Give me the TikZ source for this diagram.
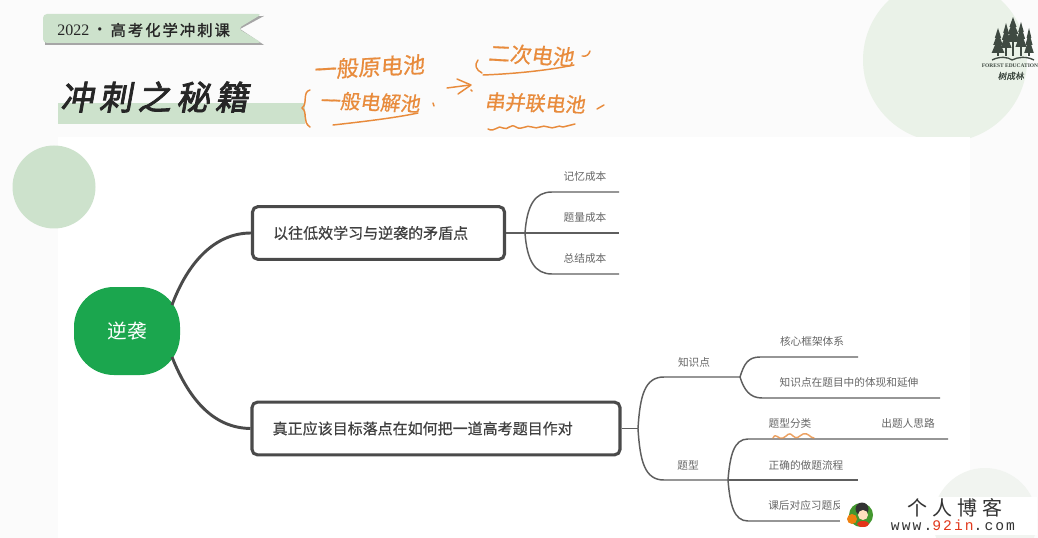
\documentclass[tikz,border=0pt]{standalone}
\usepackage{fontspec}
\setmainfont{Liberation Serif}
\newfontfamily\cjk{Noto Sans CJK SC}
\newfontfamily\cjkbox[FakeBold=0.6]{Noto Sans CJK SC}
\newfontfamily\cjkslant[FakeSlant=0.18,FakeBold=2.5,LetterSpace=16]{Noto Sans CJK SC}
\newfontfamily\hand[FakeSlant=0.12,FakeBold=0.7]{Noto Sans CJK SC}
\newfontfamily\wide[LetterSpace=25]{Noto Sans CJK SC}
\newfontfamily\ribbonfont[FakeBold=1.4,LetterSpace=13]{Noto Sans CJK SC}
\newfontfamily\wmfont[LetterSpace=14]{Liberation Mono}
\definecolor{bgc}{HTML}{FBFBFB}
\definecolor{softg}{HTML}{CDE2CC}
\definecolor{pale}{HTML}{EAF2E8}
\definecolor{paleb}{HTML}{F1F4F0}
\definecolor{rootg}{HTML}{1BA64E}
\definecolor{linec}{HTML}{4A4A4A}
\definecolor{thin}{HTML}{5E5E5E}
\definecolor{txt}{HTML}{666666}
\definecolor{ink}{HTML}{E88B3C}
\definecolor{tree}{HTML}{3F4A42}
\tikzset{
  rootnode/.style={fill=rootg,rounded corners=30,minimum width=79.5pt,minimum height=66pt,inner sep=0,text=white,font=\cjk\fontsize{14.7pt}{18pt}\selectfont},
  mainbox/.style={draw=linec,line width=2.3pt,fill=white,rounded corners=4,inner sep=0,minimum height=39.5pt,align=left,font=\cjkbox\fontsize{11.25pt}{15pt}\selectfont,text=black!75},
  lab/.style={inner sep=0,text=txt,font=\cjk\fontsize{8pt}{10pt}\selectfont},
  bigarm/.style={draw=linec,line width=2.2pt},
  arm/.style={draw=thin,line width=1.1pt},
  handtext/.style={inner sep=0,text=ink,font=\hand\fontsize{15pt}{16pt}\selectfont},
  pen/.style={draw=ink,line width=1.1pt,line cap=round,line join=round},
  treeshape/.style={fill=tree,draw=none},
}
\begin{document}
\begin{tikzpicture}[x=0.75pt,y=-0.75pt]
\useasboundingbox (0,0) rectangle (1038,538);
\fill[bgc] (0,0) rectangle (1038,538);
% decorative circles and panel
\fill[pale] (945,60) circle (82);
\fill[white] (58,137) rectangle (970,538);
\fill[paleb] (985,520) circle (52);
\fill[softg] (54,187) circle (41.5);
% ribbon
\fill[gray!70] (45,17) -- (264,16) -- (240,29) -- (264,45) -- (45,45) -- cycle;
\fill[softg,rounded corners=3] (43,14) -- (262,14) -- (238,28.5) -- (262,43) -- (43,43) -- cycle;
\node[inner sep=0,anchor=west,text=black!85] (ribbon) at (57,30) {\fontsize{12pt}{14pt}\selectfont 2022\,{\cjk ·}\,{\ribbonfont\fontsize{11.5pt}{14pt}\selectfont 高考化学冲刺课}};
% title
\fill[softg] (58,103) rectangle (305,124);
\node[inner sep=0,anchor=west,text=black!85] (title) at (60,97) {\cjkslant\fontsize{25pt}{27pt}\selectfont 冲刺之秘籍};
% logo
\foreach \cx/\top/\w in {998/28/8,1006/23/7,1013/17/9,1021/22/7,1029/28/6}{
  \fill[treeshape] (\cx,\top) -- (\cx+\w*.4,\top+10) -- (\cx-\w*.4,\top+10) -- cycle;
  \fill[treeshape] (\cx,\top+4) -- (\cx+\w*.6,\top+17) -- (\cx-\w*.6,\top+17) -- cycle;
  \fill[treeshape] (\cx,\top+10) -- (\cx+\w*.8,\top+25) -- (\cx-\w*.8,\top+25) -- cycle;
  \fill[treeshape] (\cx-.8,\top+10) rectangle (\cx+.8,56);
}
\draw[tree,line width=1pt] (992,60) .. controls (1000,56) and (1008,57) .. (1012,60) .. controls (1018,57) and (1026,56) .. (1034,60);
\node[inner sep=0,text=tree,font=\bfseries\fontsize{4.1pt}{5pt}\selectfont] (logoen) at (1010,66) {FOREST EDUCATION};
\node[inner sep=0,text=tree,font=\hand\fontsize{6.5pt}{7pt}\selectfont] (logocn) at (1011,76) {树成林};
% mind map
\node[rootnode] (root) at (127,331) {逆袭};
\node[mainbox,minimum width=189pt,text width=189pt] (boxa) at (378.5,233) {\hspace*{15.5pt}以往低效学习与逆袭的矛盾点};
\node[mainbox,minimum width=276pt,text width=276pt] (boxb) at (436,428.5) {\hspace*{15.5pt}真正应该目标落点在如何把一道高考题目作对};
\coordinate (rootup) at (172,305);
\coordinate (rootdn) at (172,357);
\draw[bigarm] (rootup) .. controls (188,262) and (215,233) .. (boxa.west);
\draw[bigarm] (rootdn) .. controls (190,402) and (215,428) .. (boxb.west);
% upper branch
\coordinate (hubA) at (525,233);
\coordinate (a1) at (619,192);
\coordinate (a2) at (619,233);
\coordinate (a3) at (619,274);
\draw[arm] (boxa.east) -- (hubA) -- (a2);
\draw[arm] (hubA) .. controls (527,205) and (535,192) .. (552,192) -- (a1);
\draw[arm] (hubA) .. controls (527,261) and (535,274) .. (552,274) -- (a3);
\node[lab] (la1) at (585,176) {记忆成本};
\node[lab] (la2) at (585,217) {题量成本};
\node[lab] (la3) at (585,258) {总结成本};
% lower branch
\coordinate (hubB) at (638,428.5);
\coordinate (k) at (740,377);
\coordinate (t) at (728,480);
\coordinate (k1) at (858,357);
\coordinate (k2) at (940,398);
\coordinate (t1) at (948,439);
\coordinate (t2) at (858,480);
\coordinate (t3) at (845,521);
\draw[arm] (boxb.east) -- (hubB);
\draw[arm] (hubB) .. controls (640,395) and (645,377) .. (664,377) -- (k);
\draw[arm] (hubB) .. controls (640,462) and (645,480) .. (664,480) -- (t);
\draw[arm] (k) .. controls (744,364) and (748,357) .. (760,357) -- (k1);
\draw[arm] (k) .. controls (744,390) and (750,398) .. (762,398) -- (k2);
\draw[arm] (t) .. controls (730,455) and (734,439) .. (748,439) -- (t1);
\draw[arm] (t) -- (t2);
\draw[arm] (t) .. controls (730,505) and (734,521) .. (748,521) -- (t3);
\node[lab] (lk) at (694,362) {知识点};
\node[lab] (lt) at (688,465) {题型};
\node[lab] (lk1) at (812,341) {核心框架体系};
\node[lab] (lk2) at (849,382) {知识点在题目中的体现和延伸};
\node[lab] (lt1) at (790,423) {题型分类};
\node[lab] (lt1b) at (908,423) {出题人思路};
\node[lab] (lt2) at (806,465) {正确的做题流程};
\node[lab,anchor=west] (lt3) at (768,505) {课后对应习题反};
% handwriting
\node[handtext,rotate=3,font=\hand\fontsize{16.6pt}{17pt}\selectfont] (h1) at (369,67) {一般原电池};
\node[handtext,rotate=-2] (h2) at (370,102) {一般电解池};
\node[handtext,rotate=-3,font=\hand\fontsize{16pt}{17pt}\selectfont] (h3) at (531,55) {二次电池};
\node[handtext,rotate=-2] (h4) at (535,103) {串并联电池};
\draw[pen] (333,125) .. controls (360,122) and (395,118) .. (418,113);
\draw[pen] (483,75) .. controls (510,74) and (545,71) .. (574,65);
\draw[pen] (310,90) .. controls (302,92) and (308,104) .. (302,108) .. controls (308,112) and (302,122) .. (310,127);
\draw[pen] (478,60) .. controls (474,65) and (476,70) .. (482,73);
\draw[pen] (447,88) -- (470,85);
\draw[pen] (457,79) -- (471,85) -- (458,94);
\draw[pen] (433,103) -- (434,106);
\draw[pen] (471,90) -- (472,91);
\draw[pen] (582,56) .. controls (587,57) and (589,54) .. (590,51);
\draw[pen] (597,109) -- (604,105);
\draw[pen] (488,129) .. controls (495,133) and (498,124) .. (503,128) .. controls (508,131) and (510,123) .. (516,127) .. controls (522,131) and (526,124) .. (532,127) .. controls (538,130) and (542,124) .. (548,127) .. controls (554,130) and (558,124) .. (563,127) -- (575,124);
\draw[pen,opacity=.8] (773,438) .. controls (776,432) and (778,440) .. (783,438) .. controls (788,436) and (788,431) .. (793,436) .. controls (797,440) and (799,436) .. (803,434) .. controls (808,432) and (810,438) .. (814,438);
% watermark
\fill[white] (840,497) rectangle (1037,535);
\fill[rootg!60!olive] (861,515) circle (12);
\fill[orange!75!brown] (852,519) circle (5);
\fill[black!80] (862,509) circle (6.5);
\fill[orange!25] (863,515) circle (5);
\fill[red!60!brown] (863,524) ellipse (6 and 3);
\node[inner sep=0,text=black!80,font=\wide\fontsize{15pt}{16pt}\selectfont] (wm1) at (955,508) {个人博客};
\node[inner sep=0,text=black!80,font=\wmfont\fontsize{11pt}{12pt}\selectfont] (wm2) at (953,525) {www.\textcolor{red!55!brown}{92in}.com};
\end{tikzpicture}
\end{document}
